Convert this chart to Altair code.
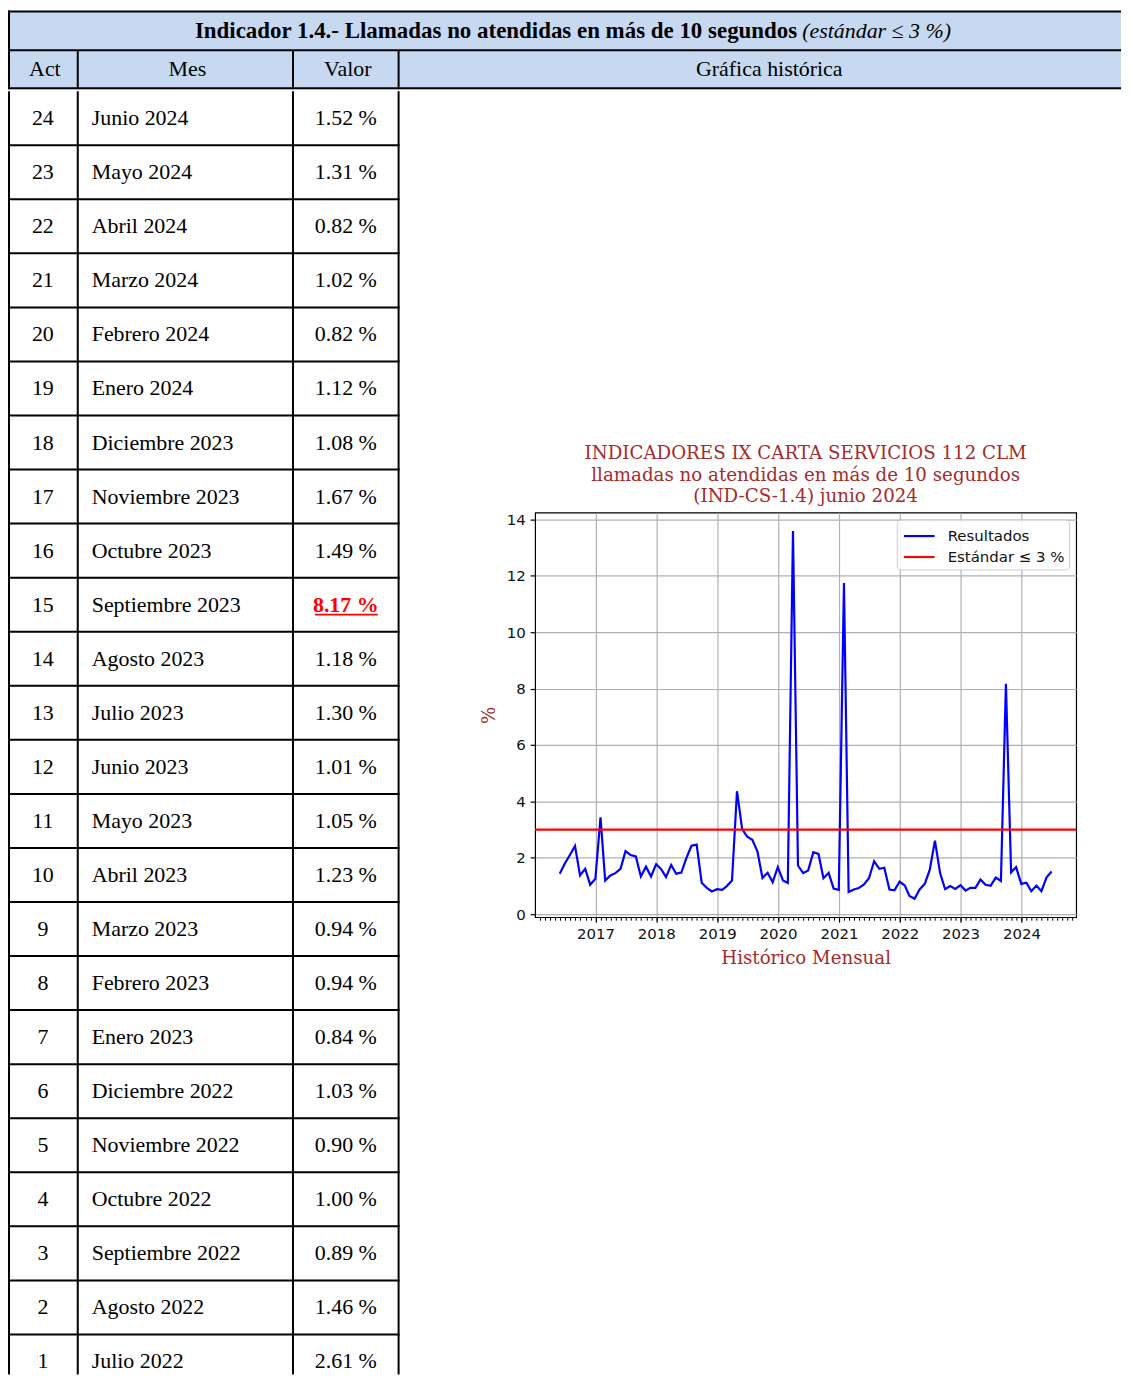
import altair as alt
import pandas as pd

# ---------------- data ----------------
act = list(range(24, 0, -1))
meses = ["Junio 2024", "Mayo 2024", "Abril 2024", "Marzo 2024", "Febrero 2024", "Enero 2024",
         "Diciembre 2023", "Noviembre 2023", "Octubre 2023", "Septiembre 2023", "Agosto 2023",
         "Julio 2023", "Junio 2023", "Mayo 2023", "Abril 2023", "Marzo 2023", "Febrero 2023",
         "Enero 2023", "Diciembre 2022", "Noviembre 2022", "Octubre 2022", "Septiembre 2022",
         "Agosto 2022", "Julio 2022"]
valores = [1.52, 1.31, 0.82, 1.02, 0.82, 1.12, 1.08, 1.67, 1.49, 8.17, 1.18, 1.30,
           1.01, 1.05, 1.23, 0.94, 0.94, 0.84, 1.03, 0.90, 1.00, 0.89, 1.46, 2.61]
estandar = 3.0

# monthly history before the table (May 2016 - Jun 2022)
historico_previo = [
    1.44, 1.79, 2.10, 2.42, 1.38, 1.61, 1.05, 1.26,
    3.44, 1.20, 1.38, 1.46, 1.61, 2.24, 2.10, 2.05, 1.34, 1.69, 1.34, 1.78,
    1.59, 1.32, 1.75, 1.44, 1.48, 1.99, 2.43, 2.47, 1.12, 0.94, 0.81, 0.89,
    0.87, 1.00, 1.20, 4.36, 3.02, 2.75, 2.64, 2.22, 1.29, 1.47, 1.14, 1.67,
    1.20, 1.11, 13.58, 1.73, 1.46, 1.55, 2.20, 2.14, 1.28, 1.47, 0.91, 0.87,
    11.74, 0.79, 0.88, 0.93, 1.06, 1.28, 1.88, 1.61, 1.65, 0.88, 0.85, 1.16,
    1.02, 0.65, 0.55, 0.88, 1.08, 1.58,
]
primer_mes = "2016-05-01"
anios_eje = list(range(2017, 2025))
y_ticks = list(range(0, 15, 2))

titulo_tabla = "Indicador 1.4.- Llamadas no atendidas en más de 10 segundos"
nota_tabla = "(estándar ≤ 3 %)"
cabeceras = ["Act", "Mes", "Valor", "Gráfica histórica"]
titulo_graf = ["INDICADORES IX CARTA SERVICIOS 112 CLM",
               "llamadas no atendidas en más de 10 segundos",
               "(IND-CS-1.4) junio 2024"]
serie_res = "Resultados"
serie_std = "Estándar ≤ 3 %"

# ---------------- layout / style ----------------
W = 1117
HEAD_H = 81
TAB_W = 393
ROW_H = 54.25
BODY_H = 1288
FONT_TAB = "Liberation Serif"
AZUL = "#c6d9f1"
MARRON = "#a52a2a"
bordes = [1, 70, 286, 392]

# ---------------- header (title row + column header row) ----------------
xs_head = alt.Scale(domain=[0, W], nice=False, zero=False)
ys_head = alt.Scale(domain=[0, HEAD_H], nice=False, zero=False, reverse=True)

fondo_df = pd.DataFrame({"x0": [1], "x1": [W], "y0": [3], "y1": [HEAD_H]})
fondo = alt.Chart(fondo_df).mark_rect(fill=AZUL).encode(
    x=alt.X("x0:Q", scale=xs_head, axis=None), x2="x1:Q",
    y=alt.Y("y0:Q", scale=ys_head, axis=None), y2="y1:Q")
hlin_df = pd.DataFrame({"y": [3, 42, HEAD_H - 1], "x0": [0, 0, 0], "x1": [W, W, W]})
hlin = alt.Chart(hlin_df).mark_rule(color="black", strokeWidth=2).encode(
    x=alt.X("x0:Q", scale=xs_head, axis=None), x2="x1:Q",
    y=alt.Y("y:Q", scale=ys_head, axis=None))
vlin_df = pd.DataFrame({"x": [1] + bordes[1:], "y0": [2, 42, 42, 42], "y1": [HEAD_H, HEAD_H, HEAD_H, HEAD_H]})
vlin = alt.Chart(vlin_df).mark_rule(color="black", strokeWidth=2).encode(
    x=alt.X("x:Q", scale=xs_head, axis=None),
    y=alt.Y("y0:Q", scale=ys_head, axis=None), y2="y1:Q")

tit_df = pd.DataFrame({"t": [titulo_tabla]})
nota_df = pd.DataFrame({"t": [nota_tabla]})
tit_txt = alt.Chart(tit_df).mark_text(font=FONT_TAB, fontSize=23, fontWeight="bold", align="right",
                                      baseline="middle", color="black").encode(
    x=alt.value(792), y=alt.value(23), text="t:N")
nota_txt = alt.Chart(nota_df).mark_text(font=FONT_TAB, fontSize=22, fontStyle="italic", align="left",
                                        baseline="middle", color="black").encode(
    x=alt.value(797), y=alt.value(23), text="t:N")
cab_df = pd.DataFrame({"t": cabeceras, "xc": [37, 180, 341, 764]})
cab_txt = alt.Chart(cab_df).mark_text(font=FONT_TAB, fontSize=22, align="center", baseline="middle",
                                      color="black").encode(
    x=alt.X("xc:Q", scale=xs_head, axis=None), y=alt.value(61), text="t:N")
cabecera = alt.layer(fondo, hlin, vlin, tit_txt, nota_txt, cab_txt).properties(width=W, height=HEAD_H)

# ---------------- table body ----------------
tabla_df = pd.DataFrame({"act": act, "mes": meses, "valor": valores})
tabla_df["texto"] = tabla_df["valor"].map(lambda v: f"{v:.2f} %")
tabla_df["fuera"] = tabla_df["valor"] > estandar
tabla_df["primera"] = tabla_df["act"] == tabla_df["act"].max()

yband = alt.Scale(type="band", range=[0, len(act) * ROW_H], paddingInner=0, paddingOuter=0)
xs_tab = alt.Scale(domain=[0, TAB_W], nice=False, zero=False)

lineas_fila = alt.Chart(tabla_df).transform_filter("!datum.primera").mark_rule(
    color="black", strokeWidth=2).encode(
    x=alt.value(0), x2=alt.value(TAB_W),
    y=alt.Y("act:O", sort="descending", scale=yband, axis=None, bandPosition=0))
col_df = pd.DataFrame({"x": bordes})
lineas_col = alt.Chart(col_df).mark_rule(color="black", strokeWidth=2).encode(
    x=alt.X("x:Q", scale=xs_tab, axis=None), y=alt.value(0), y2=alt.value(BODY_H))

ytxt = alt.Y("act:O", sort="descending", scale=yband, axis=None, bandPosition=0.5)
t_act = alt.Chart(tabla_df).mark_text(font=FONT_TAB, fontSize=22, align="center", baseline="middle",
                                      color="black", clip=True).encode(x=alt.value(35), y=ytxt, text="act:O")
t_mes = alt.Chart(tabla_df).mark_text(font=FONT_TAB, fontSize=22, align="left", baseline="middle",
                                      color="black", clip=True).encode(x=alt.value(84), y=ytxt, text="mes:N")
t_val = alt.Chart(tabla_df).transform_filter("!datum.fuera").mark_text(
    font=FONT_TAB, fontSize=22, align="center", baseline="middle", color="black", clip=True).encode(
    x=alt.value(339), y=ytxt, text="texto:N")
t_val_fuera = alt.Chart(tabla_df).transform_filter("datum.fuera").mark_text(
    font=FONT_TAB, fontSize=22, fontWeight="bold", align="center", baseline="middle", color="#ff0000").encode(
    x=alt.value(339), y=ytxt, text="texto:N")
subr = alt.Chart(tabla_df).transform_filter("datum.fuera").mark_rule(
    color="#ff0000", strokeWidth=1.6, yOffset=10).encode(
    x=alt.value(308), x2=alt.value(371), y=ytxt)
tabla = alt.layer(lineas_fila, lineas_col, t_act, t_mes, t_val, t_val_fuera, subr).properties(
    width=TAB_W, height=BODY_H)

# ---------------- historical line chart ----------------
serie = historico_previo + valores[::-1]
fechas = [pd.Timestamp(primer_mes) + pd.DateOffset(months=i) + pd.offsets.MonthEnd(0) for i in range(len(serie))]
serie_df = pd.DataFrame({"fecha": fechas, "valor": serie, "serie": serie_res})
std_df = pd.DataFrame({"valor": [estandar], "serie": [serie_std]})

def dt(t):
    return alt.DateTime(year=t.year, month=t.month, date=t.day, hours=t.hour, minutes=t.minute)

margen_x = (fechas[-1] - fechas[0]) * 0.05
x_dom = [dt(fechas[0] - margen_x), dt(fechas[-1] + margen_x)]
margen_y = (max(serie) - min(serie)) * 0.05
y_dom = [min(serie) - margen_y, max(serie) + margen_y]
minor_vals = [dt(t) for t in pd.date_range(fechas[0] - margen_x, fechas[-1] + margen_x, freq="MS")]

xscale = alt.Scale(domain=x_dom, nice=False)
yscale = alt.Scale(domain=y_dom, nice=False, zero=False)

color = alt.Color("serie:N", scale=alt.Scale(domain=[serie_res, serie_std], range=["#0000ff", "#ff0000"]),
                  legend=alt.Legend(title=None, orient="top-right", offset=7, padding=4,
                                    fillColor="rgba(255,255,255,0.85)", strokeColor="#cccccc",
                                    cornerRadius=4, symbolType="M-1.4,0H1.4", symbolSize=484,
                                    symbolOffset=6, symbolStrokeWidth=2.2, labelFont="DejaVu Sans",
                                    labelFontSize=15, labelColor="#111", rowPadding=0, labelOffset=16))

eje_x = alt.Axis(values=[alt.DateTime(year=a, month=1, date=1) for a in anios_eje], format="%Y",
                 labelFont="DejaVu Sans", labelFontSize=15, labelColor="#111", labelPadding=4,
                 tickSize=5, tickColor="black", tickWidth=1.2, domain=False,
                 grid=True, gridColor="#b0b0b0", gridWidth=1.2, labelFlush=False, labelOverlap=False,
                 title="Histórico Mensual", titleFont="DejaVu Serif", titleFontSize=18.3,
                 titleFontWeight="normal", titleColor=MARRON, titlePadding=8, orient="bottom")
eje_x_menor = alt.Axis(values=minor_vals, labels=False, grid=False, tickSize=3, tickColor="black",
                       tickWidth=1, domain=False, title=None, orient="bottom")
eje_y = alt.Axis(values=y_ticks, labelFont="DejaVu Sans", labelFontSize=15, labelColor="#111",
                 labelPadding=5, tickSize=5, tickColor="black", tickWidth=1.2, domain=False,
                 grid=True, gridColor="#b0b0b0", gridWidth=1.2,
                 title="%", titleFont="DejaVu Serif", titleFontSize=18.3, titleFontWeight="normal",
                 titleColor=MARRON, titlePadding=8)

linea = alt.Chart(serie_df).mark_line(strokeWidth=2.2).encode(
    x=alt.X("fecha:T", scale=xscale, axis=eje_x),
    y=alt.Y("valor:Q", scale=yscale, axis=eje_y),
    color=color)
regla = alt.Chart(std_df).mark_rule(strokeWidth=2.2).encode(
    y=alt.Y("valor:Q", scale=yscale), color=color)
menor = alt.Chart(serie_df).mark_point(opacity=0, size=1).encode(
    x=alt.X("fecha:T", scale=xscale, axis=eje_x_menor))

grafica = alt.layer(linea, regla, menor).resolve_axis(x="independent").properties(
    width=543, height=406,
    view=alt.ViewBackground(stroke="black", strokeWidth=1.2),
    title=alt.TitleParams(text=titulo_graf, font="DejaVu Serif", fontSize=18.3, fontWeight="normal",
                          color=MARRON, anchor="middle", frame="group", lineHeight=21.5, offset=6))

espaciador = alt.Chart(pd.DataFrame({"v": [0]})).mark_point(opacity=0, size=1).encode(
    x=alt.value(1), y=alt.value(1)).properties(width=2, height=2)

col_graf = alt.vconcat(espaciador, grafica, spacing=350).resolve_legend(color="independent")
cuerpo = alt.hconcat(tabla, col_graf, spacing=77).resolve_legend(color="independent")

chart = alt.vconcat(cabecera, cuerpo, spacing=-4).resolve_legend(color="independent").properties(
    padding={"left": -2, "top": -3, "right": 0, "bottom": 0}
).configure_view(stroke="transparent")

chart.save("out.html", embed_options={"renderer": "svg", "actions": False})
